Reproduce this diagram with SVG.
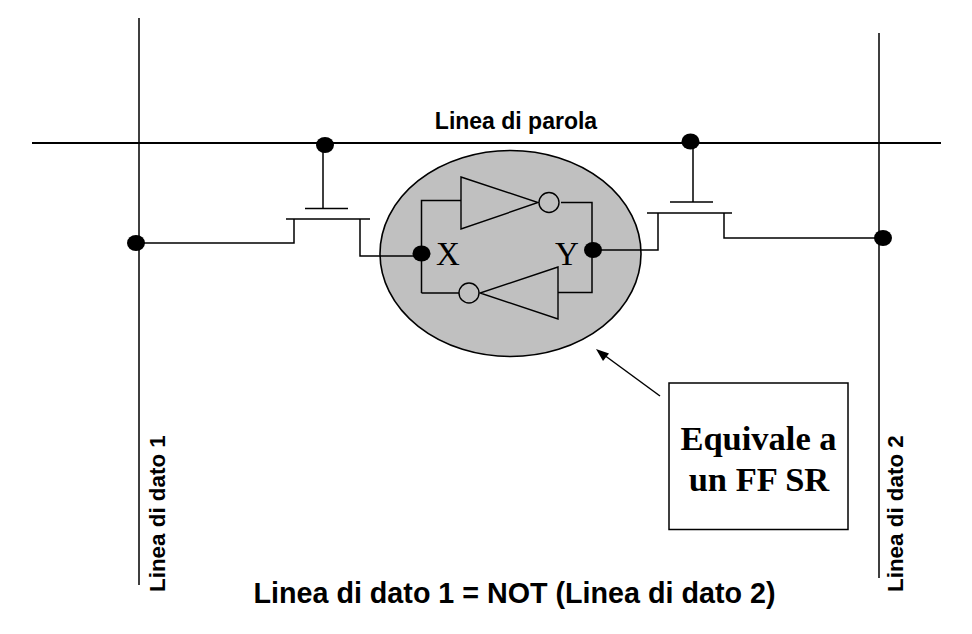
<svg xmlns="http://www.w3.org/2000/svg" width="972" height="634" viewBox="0 0 972 634">
<style>
.l{fill:none;stroke:#000;stroke-width:1.5}
.b{fill:none;stroke:#000;stroke-width:2.2}
.d{fill:#000}
.g{fill:#c0c0c0;stroke:#000;stroke-width:1.6}
.w{fill:#c0c0c0;stroke:#000;stroke-width:1.4}
.s{font-family:"Liberation Sans",Arial,sans-serif;font-weight:bold;fill:#000}
.t{font-family:"Liberation Serif","Times New Roman",serif;fill:#000}
</style>
<rect width="972" height="634" fill="#fff"/>
<g id="cell-body">
<ellipse class="g" cx="510.500" cy="253.500" rx="130.500" ry="103"/>
</g>
<g id="connectors">
<path class="l" d="M139 18V585M879 33V578"/>
<path class="b" d="M32 143H941"/>
<path class="l" d="M323 145V208.500M305 208.500H348M286 219H370M294 219V243H136M360 219V256H421"/>
<path class="l" d="M693 142V202M670 202H713M647 213H732M658 213V250H593M724 213V238H883"/>
<path class="l" d="M421.500 293V200.500H461M561 202.500H592V292.500H558M459 293H421.500"/>
<path class="l" d="M660 396L600 352"/>
<path class="d" d="M596 349L609 353.500L603 361Z"/>
</g>
<g id="inverter-top">
<path class="w" d="M461 177L538 202.500L461 229Z"/>
<circle class="w" cx="549" cy="202.500" r="10"/>
</g>
<g id="inverter-bottom">
<path class="w" d="M558 267L480 293L558 319Z"/>
<circle class="w" cx="469" cy="293" r="10"/>
</g>
<g id="labels-xy">
<text class="t" x="436" y="265" font-size="33">X</text>
<text class="t" x="555" y="265" font-size="33">Y</text>
</g>
<g id="dots">
<ellipse class="d" cx="325" cy="145" rx="9" ry="8"/>
<ellipse class="d" cx="690.500" cy="141.500" rx="9" ry="8"/>
<ellipse class="d" cx="136" cy="243" rx="9" ry="8"/>
<ellipse class="d" cx="883" cy="238" rx="9" ry="8"/>
<ellipse class="d" cx="421.500" cy="253.500" rx="9" ry="8"/>
<ellipse class="d" cx="593" cy="250" rx="9" ry="8"/>
</g>
<g id="box">
<rect x="669" y="383" width="179" height="146.500" fill="#fff" stroke="#000" stroke-width="1.500"/>
<text class="t" x="758.500" y="449.500" font-size="34.500" font-weight="bold" text-anchor="middle" fill="#1a1010">Equivale a</text>
<text class="t" x="759" y="490.500" font-size="34.500" font-weight="bold" text-anchor="middle" fill="#1a1010">un FF SR</text>
</g>
<g id="labels">
<text class="s" x="516" y="128.500" font-size="23" text-anchor="middle">Linea di parola</text>
<text class="s" x="514.500" y="602.500" font-size="28.700" text-anchor="middle">Linea di dato 1 = NOT (Linea di dato 2)</text>
<text class="s" transform="translate(165 592) rotate(-90)" font-size="22.400">Linea di dato 1</text>
<text class="s" transform="translate(903 592) rotate(-90)" font-size="22.400">Linea di dato 2</text>
</g>
</svg>
